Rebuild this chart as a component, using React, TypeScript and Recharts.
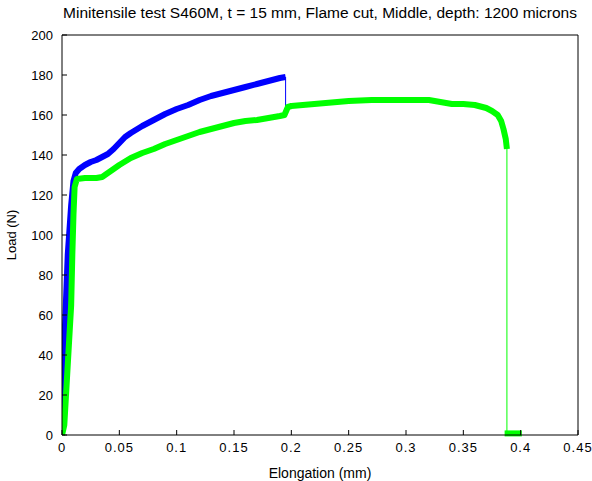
import { Line, LineChart, XAxis, YAxis } from "recharts";

// elongation (mm) / load (N)
const blueX = [0, 0.0015, 0.003, 0.005, 0.008, 0.01, 0.012, 0.015, 0.02, 0.025, 0.03, 0.035, 0.04, 0.045, 0.05, 0.055, 0.06, 0.07, 0.08, 0.09, 0.1, 0.11, 0.12, 0.13, 0.14, 0.15, 0.16, 0.17, 0.18, 0.19, 0.195];
const blueY = [0, 40, 60, 90, 115, 127, 131, 133, 135, 136.5, 137.5, 139, 140.5, 143, 146, 149, 151, 154.5, 157.5, 160.5, 163, 165, 167.5, 169.5, 171, 172.5, 174, 175.5, 177, 178.5, 179];
const blueDrop = [179, 163];

const greenX = [0, 0.002, 0.004, 0.006, 0.008, 0.009, 0.01, 0.011, 0.013, 0.02, 0.03, 0.035, 0.04, 0.045, 0.05, 0.06, 0.07, 0.08, 0.09, 0.1, 0.11, 0.12, 0.13, 0.14, 0.15, 0.16, 0.17, 0.18, 0.19, 0.194, 0.197, 0.2, 0.21, 0.22, 0.23, 0.24, 0.25, 0.27, 0.29, 0.31, 0.32, 0.33, 0.34, 0.35, 0.36, 0.37, 0.375, 0.38, 0.383, 0.385, 0.387, 0.388];
const greenY = [0, 5, 25, 45, 65, 90, 110, 124, 128, 128.5, 128.5, 129, 131, 133, 135, 138.5, 141, 143, 145.5, 147.5, 149.5, 151.5, 153, 154.5, 156, 157, 157.5, 158.5, 159.5, 160, 164, 164.5, 165, 165.5, 166, 166.5, 167, 167.5, 167.5, 167.5, 167.5, 166.5, 165.5, 165.5, 165, 163.5, 162, 160, 157, 153, 148, 143];
const greenDrop = [143, 0];
const greenTailX = [0.386, 0.39, 0.395, 0.401];
const greenTailY = [0.8, 0.8, 0.8, 0.8];

const xTicks = [0, 0.05, 0.1, 0.15, 0.2, 0.25, 0.3, 0.35, 0.4, 0.45];
const yTicks = [0, 20, 40, 60, 80, 100, 120, 140, 160, 180, 200];

const toPts = (xs: number[], ys: number[]) => xs.map((x, i) => ({ x, y: ys[i] }));

const bluePts = toPts(blueX, blueY);
const blueDropPts = toPts([0.195, 0.195], blueDrop);
const greenPts = toPts(greenX, greenY);
const greenDropPts = toPts([0.388, 0.388], greenDrop);
const greenTailPts = toPts(greenTailX, greenTailY);

const FONT = "'Liberation Sans', Arial, sans-serif";
const textStyle = { fontSize: 13, fill: "#000", fontFamily: FONT };

export default function App() {
  return (
    <div style={{ position: "absolute", left: 0, top: 0, width: 592, height: 481, background: "#fff" }}>
      <div
        style={{
          position: "absolute",
          left: 20,
          width: 600,
          top: 4,
          textAlign: "center",
          fontFamily: FONT,
          fontSize: 15.5,
          color: "#000",
          whiteSpace: "nowrap",
        }}
      >
        Minitensile test S460M, t = 15 mm, Flame cut, Middle, depth: 1200 microns
      </div>
      <LineChart width={592} height={481} margin={{ top: 34, right: 13, left: 22, bottom: 16 }}>
        <XAxis
          dataKey="x"
          type="number"
          domain={[0, 0.45]}
          ticks={xTicks}
          allowDataOverflow
          height={30}
          tickSize={-5}
          tickMargin={13}
          stroke="#000"
          tick={{ ...textStyle, letterSpacing: 1 }}
          label={{ value: "Elongation (mm)", position: "insideBottom", offset: -13, style: { ...textStyle, fontSize: 14 } }}
        />
        <XAxis xAxisId="top" orientation="top" dataKey="x" type="number" domain={[0, 0.45]} ticks={xTicks} height={1} tickSize={-5} tick={false} stroke="#000" />
        <YAxis
          type="number"
          domain={[0, 200]}
          ticks={yTicks}
          width={40}
          tickSize={-5}
          tickMargin={14}
          stroke="#000"
          tick={textStyle}
          label={{ value: "Load (N)", angle: -90, position: "insideLeft", offset: -11, style: { ...textStyle, textAnchor: "middle" } }}
        />
        <YAxis yAxisId="right" orientation="right" type="number" domain={[0, 200]} ticks={yTicks} width={1} tickSize={-5} tick={false} stroke="#000" />
        <Line data={bluePts} dataKey="y" stroke="#0000ff" strokeWidth={6} strokeLinejoin="round" dot={false} isAnimationActive={false} />
        <Line data={blueDropPts} dataKey="y" stroke="#0000ff" strokeWidth={1} dot={false} isAnimationActive={false} />
        <Line data={greenPts} dataKey="y" stroke="#00ff00" strokeWidth={6} strokeLinejoin="round" dot={false} isAnimationActive={false} />
        <Line data={greenDropPts} dataKey="y" stroke="#00ff00" strokeWidth={1} dot={false} isAnimationActive={false} />
        <Line data={greenTailPts} dataKey="y" stroke="#00ff00" strokeWidth={6} dot={false} isAnimationActive={false} />
      </LineChart>
    </div>
  );
}
